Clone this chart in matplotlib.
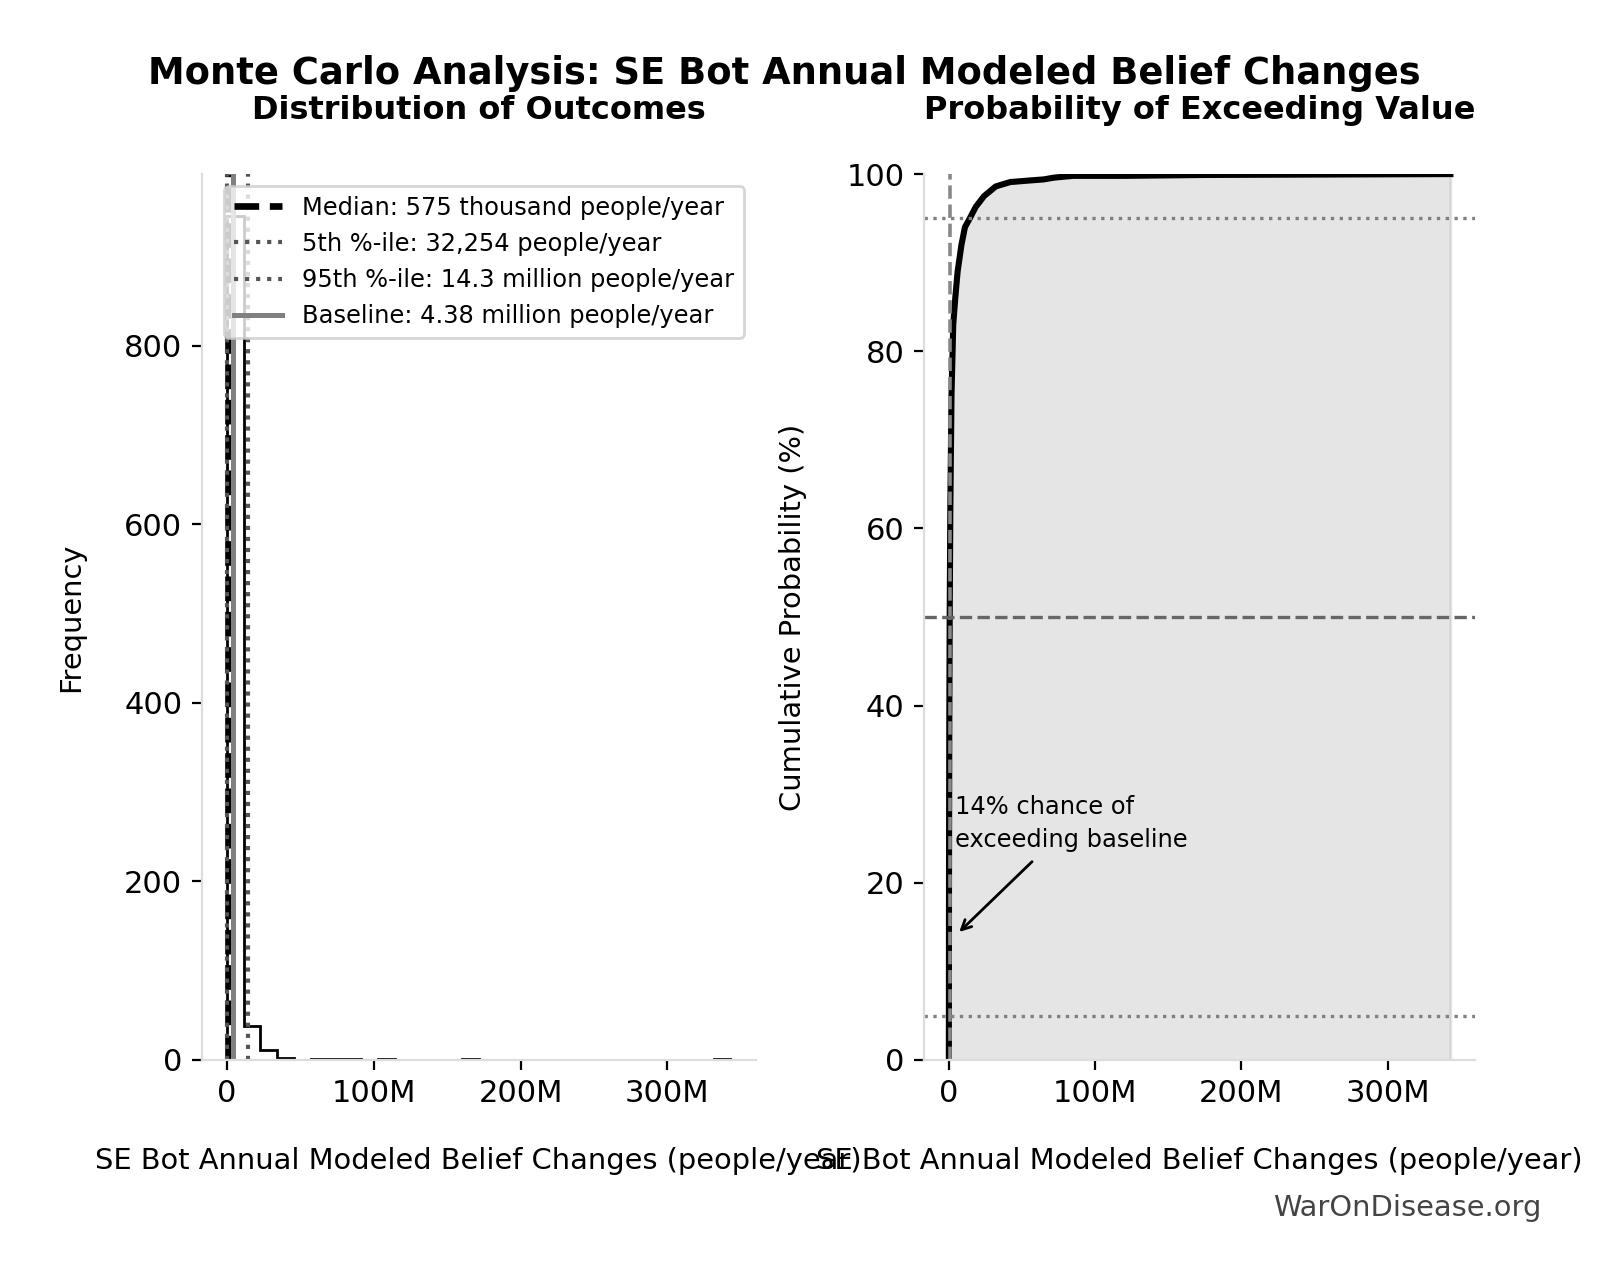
import numpy as np
import matplotlib
matplotlib.use("Agg")
import matplotlib.pyplot as plt
from matplotlib.ticker import FuncFormatter

# summary statistics (people/year)
median_val = 575e3
p5_val = 32254
p95_val = 14.3e6
baseline_val = 4.38e6

# histogram: 30 equal bins between min and max
hist_min = 0.0
hist_max = 343e6
hist_counts = [945, 38, 11, 2, 0, 1, 1, 1, 0, 1,
               0, 0, 0, 0, 1, 0, 0, 0, 0, 0,
               0, 0, 0, 0, 0, 0, 0, 0, 0, 1]

# cumulative curve (millions, percent)
cdf_x_m = [0.0, 0.005, 0.03, 0.1, 0.3, 0.575, 1.0, 1.8, 3.0, 4.38, 6.0, 8.6,
           11.0, 14.3, 18.4, 24.0, 32.0, 42.0, 57.0, 65.0, 72.0, 85.0, 120.0,
           175.0, 343.0]
cdf_pct = [0.1, 2.0, 5.0, 20.0, 38.0, 50.0, 62.0, 75.0, 83.0, 86.0, 89.0, 92.0,
           94.0, 95.0, 96.3, 97.5, 98.6, 99.1, 99.3, 99.4, 99.6, 99.8, 99.8,
           99.9, 100.0]

xlabel = "SE Bot Annual Modeled Belief Changes (people/year)"


def fmt_m(x, pos):
    if x == 0:
        return "0"
    return f"{x / 1e6:.0f}M"


fig = plt.figure(figsize=(8.005, 6.4), dpi=200)
ax1 = fig.add_axes([0.126, 0.172, 0.346, 0.692])
ax2 = fig.add_axes([0.577, 0.172, 0.3446, 0.692])

for ax in (ax1, ax2):
    for side in ("top", "right"):
        ax.spines[side].set_visible(False)
    for side in ("left", "bottom"):
        ax.spines[side].set_color("#dddddd")
    ax.tick_params(labelsize=11)
    ax.xaxis.set_major_formatter(FuncFormatter(fmt_m))
    ax.set_xlabel(xlabel, fontsize=10.4, labelpad=14)

# left: histogram
edges = np.linspace(hist_min, hist_max, len(hist_counts) + 1)
ax1.stairs(hist_counts, edges, color="black", lw=1.0)
ax1.set_xlim(hist_min - 0.05 * (hist_max - hist_min), hist_max + 0.05 * (hist_max - hist_min))
ax1.set_ylim(0, max(hist_counts) * 1.05)
ax1.set_yticks([0, 200, 400, 600, 800])

ax1.axvline(median_val, color="black", ls="--", lw=2.4, label="Median: 575 thousand people/year")
ax1.axvline(p5_val, color="#555555", ls=":", lw=1.5, label="5th %-ile: 32,254 people/year")
ax1.axvline(p95_val, color="#555555", ls=":", lw=1.5, label="95th %-ile: 14.3 million people/year")
ax1.axvline(baseline_val, color="gray", ls="-", lw=1.8, label="Baseline: 4.38 million people/year")
ax1.legend(loc="upper right", fontsize=8.7, framealpha=0.8, edgecolor="#cccccc")
ax1.set_ylabel("Frequency", fontsize=10.4, labelpad=14)
ax1.set_title("Distribution of Outcomes", fontsize=11.5, fontweight="bold", pad=20)

# right: cumulative probability
cx = np.array(cdf_x_m) * 1e6
ax2.fill_between(cx, cdf_pct, color="gray", alpha=0.2)
ax2.plot(cx, cdf_pct, color="black", lw=2.2)
ax2.axvline(median_val, color="#888888", ls="--", lw=1.3)
ax2.axhline(50, color="#666666", ls="--", lw=1.2)
ax2.axhline(5, color="gray", ls=":", lw=1.2)
ax2.axhline(95, color="gray", ls=":", lw=1.2)
ax2.set_xlim(-0.05 * cx.max(), cx.max() * 1.05)
ax2.set_ylim(0, 100)
ax2.set_ylabel("Cumulative Probability (%)", fontsize=10.4, labelpad=14)
ax2.set_title("Probability of Exceeding Value", fontsize=11.5, fontweight="bold", pad=20)
ax2.annotate("14% chance of\nexceeding baseline", xy=(baseline_val, 14),
             xytext=(baseline_val, 24.0), fontsize=8.7, linespacing=1.5,
             arrowprops=dict(arrowstyle="->", color="black", lw=1))

fig.suptitle("Monte Carlo Analysis: SE Bot Annual Modeled Belief Changes",
             fontsize=13.3, fontweight="bold", x=0.49, y=0.9425, va="center")
fig.text(0.963, 0.056, "WarOnDisease.org", fontsize=10.4, color="#444444",
         ha="right", va="center")

fig.savefig("out.png", dpi=200)
